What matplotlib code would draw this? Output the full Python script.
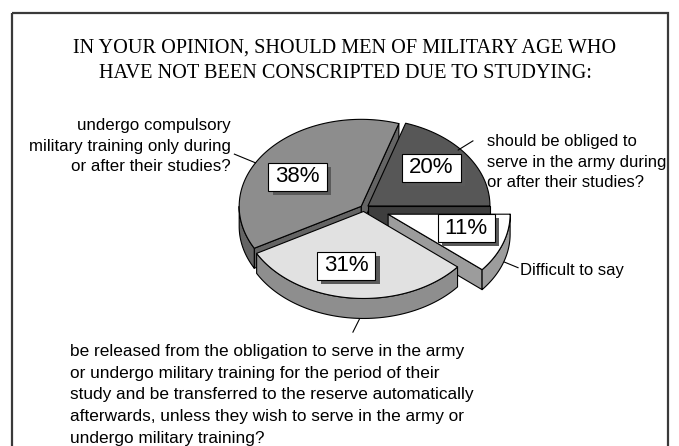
import numpy as np
import matplotlib.pyplot as plt
from matplotlib.patches import Polygon, Rectangle
import matplotlib.patheffects as pe

plt.rcParams['font.family'] = ['Liberation Sans', 'DejaVu Sans']

title = ("IN YOUR OPINION, SHOULD MEN OF MILITARY AGE WHO\n"
         "HAVE NOT BEEN CONSCRIPTED DUE TO STUDYING:")

# answers go counter-clockwise starting at 3 o'clock
values = [20, 38, 31, 11]
answers = [
    "should be obliged to\nserve in the army during\nor after their studies?",
    "undergo compulsory\nmilitary training only during\nor after their studies?",
    "be released from the obligation to serve in the army\n"
    "or undergo military training for the period of their\n"
    "study and be transferred to the reserve automatically\n"
    "afterwards, unless they wish to serve in the army or\n"
    "undergo military training?",
    "Difficult to say",
]

top_colors = ['#575757', '#8d8d8d', '#e1e1e1', '#ffffff']
side_colors = ['#3e3e3e', '#646464', '#8e8e8e', '#9c9c9c']
explode = [0.04, 0.03, 0.04, 0.21]

# percentage box placement on each slice: (angle, r)
box_pos = [(40, 0.68), (147, 0.62), (257, 0.64), (-14, 0.66)]
# answer text placement (x, y, ha, font size, line spacing)
text_pos = [(487, 162, 'left', 12, 1.42), (231, 146, 'right', 12.2, 1.42),
            (70, 395, 'left', 12.4, 1.57), (520, 270, 'left', 12, 1.4)]
# leader lines: (angle, r, drop) at both ends
leaders = [((41, 0.98, 0), (41, 1.14, 0)),
           ((150, 1.0, 0), (150, 1.2, 0)),
           ((268, 1.0, 21), (265, 1.0, 34)),
           ((-30, 1.1, 0), (-30, 1.23, 0))]

cx, cy = 364, 208      # pie centre in pixels
rx, ry = 122, 87       # ellipse radii
depth = 20

fig = plt.figure(figsize=(6.79, 4.46), dpi=100)
ax = fig.add_axes([0, 0, 1, 1])
ax.set_xlim(0, 679)
ax.set_ylim(446, 0)
ax.axis('off')

ax.add_patch(Rectangle((12, 13), 656, 460, fill=False, ec='#3a3a3a', lw=1.6))
ax.text(345, 61, title, family='Liberation Serif', fontsize=14.6,
        ha='center', va='center', linespacing=1.48)


def rim(t, ox, oy, r=1.0, dz=0.0):
    return np.column_stack([ox + r * rx * np.cos(t), oy - r * ry * np.sin(t) + dz])


angles = np.deg2rad(np.concatenate([[0], np.cumsum(values)]) * 3.6)
slices = []
for i in range(len(values)):
    t0, t1 = angles[i], angles[i + 1]
    mid = (t0 + t1) / 2
    ox = cx + explode[i] * rx * np.cos(mid)
    oy = cy - explode[i] * ry * np.sin(mid)
    slices.append((np.sin(mid), i, t0, t1, ox, oy))

edge = dict(ec='black', lw=0.8, joinstyle='round')
# back slices first
for _, i, t0, t1, ox, oy in sorted(slices, reverse=True):
    c = np.array([[ox, oy]])
    faces = []
    if np.cos(t0) > 0:
        p = rim(np.array([t0]), ox, oy)
        faces.append(np.vstack([c, p, p + [0, depth], c + [0, depth]]))
    if np.cos(t1) < 0:
        p = rim(np.array([t1]), ox, oy)
        faces.append(np.vstack([c, p, p + [0, depth], c + [0, depth]]))
    a, b = max(t0, np.pi), min(t1, 2 * np.pi)
    if a < b:
        arc = np.linspace(a, b, 80)
        faces.append(np.vstack([rim(arc, ox, oy), rim(arc[::-1], ox, oy, dz=depth)]))
    for f in faces:
        ax.add_patch(Polygon(f, closed=True, fc=side_colors[i], **edge))
    arc = np.linspace(t0, t1, 150)
    ax.add_patch(Polygon(np.vstack([c, rim(arc, ox, oy)]), closed=True,
                         fc=top_colors[i], **edge))

    # percentage box with a drop shadow
    ba, br = box_pos[i]
    lx, ly = rim(np.deg2rad([ba]), ox, oy, r=br)[0]
    t = ax.text(lx, ly, f"{values[i]}%", fontsize=16, ha='center', va='center',
                bbox=dict(boxstyle='square,pad=0.32', mutation_aspect=0.5,
                          fc='white', ec='black', lw=0.8))
    t.get_bbox_patch().set_path_effects(
        [pe.SimplePatchShadow(offset=(3, -3), shadow_rgbFace='#5a5a5a', alpha=1.0),
         pe.Normal()])

    # leader line to the answer text
    (a0, r0, d0), (a1, r1, d1) = leaders[i]
    p0 = rim(np.deg2rad([a0]), ox, oy, r=r0, dz=d0)[0]
    p1 = rim(np.deg2rad([a1]), ox, oy, r=r1, dz=d1)[0]
    ax.plot([p0[0], p1[0]], [p0[1], p1[1]], color='black', lw=0.8)

for (x, y, ha, fs, ls), s in zip(text_pos, answers):
    ax.text(x, y, s, fontsize=fs, ha=ha, va='center', linespacing=ls,
            multialignment=ha)

fig.savefig('out.png', dpi=100)
